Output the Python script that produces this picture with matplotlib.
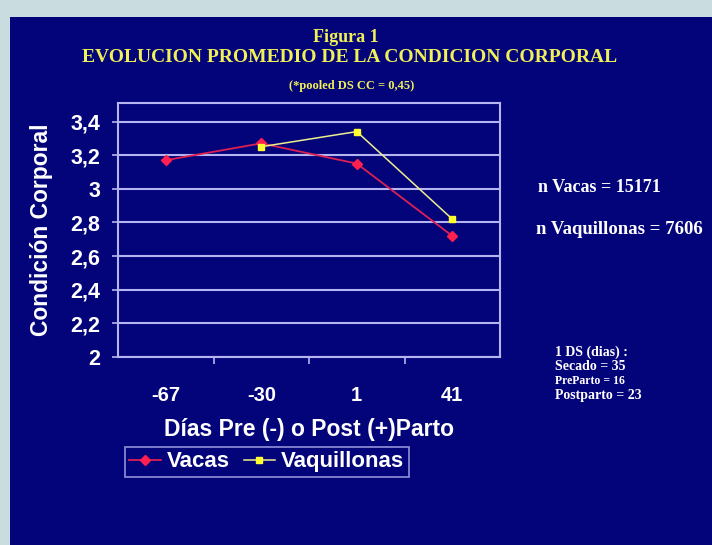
import numpy as np
import matplotlib
matplotlib.use("Agg")
import matplotlib.pyplot as plt
from matplotlib.patches import Rectangle

dias = ["-67", "-30", "1", "41"]
vacas = [3.17, 3.27, 3.15, 2.72]
vaquillonas = [np.nan, 3.25, 3.34, 2.82]
yticks = [2.0, 2.2, 2.4, 2.6, 2.8, 3.0, 3.2, 3.4]
ytick_labels = ["2", "2,2", "2,4", "2,6", "2,8", "3", "3,2", "3,4"]

NAVY = "#04047a"
BORDER = "#c9dcdf"
GRID = "#b4b4f0"
TITLE_C = "#f0f058"
W, H = 712, 545
sans = ["Liberation Sans", "DejaVu Sans"]
serif = ["Liberation Serif", "DejaVu Serif"]

fig = plt.figure(figsize=(W / 100, H / 100), dpi=100)
fig.patch.set_facecolor(BORDER)
fig.patches.append(Rectangle((10 / W, 0), 1 - 10 / W, 1 - 17 / H,
                             transform=fig.transFigure, facecolor=NAVY,
                             edgecolor="none", zorder=-5))

ax = fig.add_axes([118 / W, (H - 357) / H, 382 / W, (357 - 103) / H])
ax.set_facecolor(NAVY)

x = np.arange(len(dias))
ax.plot(x, vacas, color="#dc2054", lw=1.3, marker="D", ms=5,
        mfc="#ff2050", mec="#ff2050", label="Vacas", zorder=3)
ax.plot(x, vaquillonas, color="#eeee90", lw=1.1, marker="s", ms=5,
        mfc="#ffff30", mec="#ffff30", label="Vaquillonas", zorder=4)

ax.set_xlim(-0.5, 3.5)
ax.set_ylim(2.0, 3.51)
ax.set_yticks(yticks)
ax.set_yticklabels(ytick_labels)
ax.set_xticks(x)
ax.set_xticklabels(dias)
ax.set_xticks([0.5, 1.5, 2.5], minor=True)
ax.tick_params(axis="x", which="major", length=0, pad=21, labelsize=14.5, colors="white")
ax.tick_params(axis="x", which="minor", length=5, color=GRID, width=1.2, direction="out")
ax.tick_params(axis="y", length=4, color=GRID, width=1.2, labelsize=15.5, colors="white", pad=9)
for lbl in ax.get_xticklabels() + ax.get_yticklabels():
    lbl.set_fontweight("bold")
    lbl.set_fontfamily(sans)
ax.grid(axis="y", color=GRID, lw=1.5)
ax.set_axisbelow(True)
for s in ax.spines.values():
    s.set_color(GRID)
    s.set_linewidth(1.5)

ax.set_ylabel("Condición Corporal", color="white", fontsize=16.5, fontweight="bold",
              family=sans, labelpad=12)
ax.set_xlabel("Días Pre (-) o Post (+)Parto", color="white", fontsize=16.5,
              fontweight="bold", family=sans, labelpad=9)

fig.text(346 / W, 1 - 37 / H, "Figura 1", color=TITLE_C, fontsize=13, fontweight="bold",
         family=serif, ha="center", va="center")
fig.text(350 / W, 1 - 58 / H, "EVOLUCION PROMEDIO DE LA CONDICION CORPORAL",
         color=TITLE_C, fontsize=14, fontweight="bold", family=serif,
         ha="center", va="center")
fig.text(352 / W, 1 - 86 / H, "(*pooled DS CC = 0,45)", color=TITLE_C, fontsize=9,
         fontweight="bold", family=serif, ha="center", va="center")

fig.text(538 / W, 1 - 187 / H, "n Vacas = 15171", color="white", fontsize=13,
         fontweight="bold", family=serif, ha="left", va="center")
fig.text(536 / W, 1 - 230 / H, "n Vaquillonas = 7606", color="white", fontsize=13.5,
         fontweight="bold", family=serif, ha="left", va="center")
ds_lines = ["1 DS (dias) :", "Secado = 35", "PreParto = 16", "Postparto = 23"]
ds_sizes = [10, 10, 8.5, 10]
for i, (t, fs) in enumerate(zip(ds_lines, ds_sizes)):
    fig.text(555 / W, 1 - (352 + i * 14.5) / H, t, color="white", fontsize=fs,
             fontweight="bold", family=serif, ha="left", va="center")

leg = fig.legend(loc="upper left", bbox_to_anchor=(125 / W, 1 - 447 / H),
                 borderaxespad=0, ncol=2, frameon=True, fancybox=False,
                 handlelength=1.4, handletextpad=0.3, columnspacing=0.6, borderpad=0.2,
                 prop={"family": sans, "weight": "bold", "size": 16})
leg.get_frame().set_facecolor(NAVY)
leg.get_frame().set_edgecolor(GRID)
leg.get_frame().set_linewidth(1.2)
for t in leg.get_texts():
    t.set_color("white")

fig.savefig("out.png", dpi=100, facecolor=fig.get_facecolor())
